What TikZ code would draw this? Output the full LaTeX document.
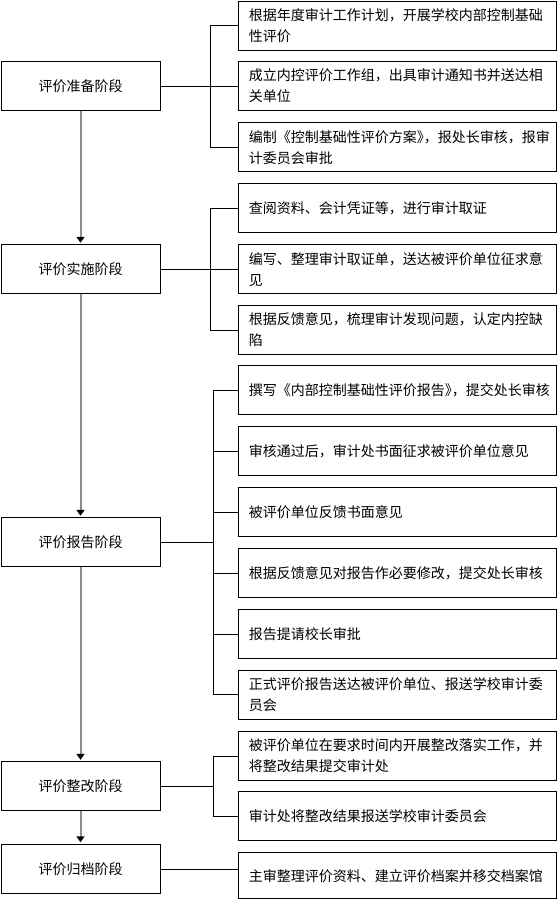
\documentclass[tikz,border=0pt]{standalone}
\usepackage{fontspec}
\setmainfont{Noto Sans CJK SC}
\usetikzlibrary{arrows.meta}

\begin{document}
\begin{tikzpicture}[x=1pt, y=-1pt,
    stage/.style={draw, line width=1pt, anchor=north west, minimum width=159pt, minimum height=49pt, inner sep=0pt, font=\fontsize{14}{21}\selectfont},
    item/.style={draw, line width=1pt, anchor=north west, text width=298pt, inner xsep=10pt, inner ysep=0pt, minimum height=49pt, align=left, font=\fontsize{14}{21}\selectfont},
    flow/.style={draw=gray!90, line width=2pt, -{Triangle[width=8pt, length=6pt, black]}, shorten >=1.5pt}]
    \useasboundingbox (0,0) rectangle (557,901);

    % stages
    \node[stage] (s1) at (0.5, 61.3) {评价准备阶段};
    \node[stage] (s2) at (0.5, 244.3) {评价实施阶段};
    \node[stage] (s3) at (0.5, 517.3) {评价报告阶段};
    \node[stage] (s4) at (0.5, 761.3) {评价整改阶段};
    \node[stage] (s5) at (0.5, 843.8) {评价归档阶段};

    % tasks
    \node[item] (r1) at (238.3, 0.6) {根据年度审计工作计划，开展学校内部控制基础\\性评价};
    \node[item] (r2) at (238.3, 61) {成立内控评价工作组，出具审计通知书并送达相\\关单位};
    \node[item] (r3) at (238.3, 122.3) {编制《控制基础性评价方案》\kern-0.5em，报处长审核，报审\\计委员会审批};
    \node[item] (r4) at (238.3, 183.3) {查阅资料、会计凭证等，进行审计取证};
    \node[item] (r5) at (238.3, 244.3) {编写、整理审计取证单，送达被评价单位征求意\\见};
    \node[item] (r6) at (238.3, 304.8) {根据反馈意见，梳理审计发现问题，认定内控缺\\陷};
    \node[item] (r7) at (238.3, 365.3) {撰写《内部控制基础性评价报告》\kern-0.5em，提交处长审核};
    \node[item] (r8) at (238.3, 426) {审核通过后，审计处书面征求被评价单位意见};
    \node[item] (r9) at (238.3, 486.7) {被评价单位反馈书面意见};
    \node[item] (r10) at (238.3, 548) {根据反馈意见对报告作必要修改，提交处长审核};
    \node[item] (r11) at (238.3, 609.3) {报告提请校长审批};
    \node[item] (r12) at (238.3, 669.5) {正式评价报告送达被评价单位、报送学校审计委\\员会};
    \node[item] (r13) at (238.3, 730.7) {被评价单位在要求时间内开展整改落实工作，并\\将整改结果提交审计处};
    \node[item] (r14) at (238.3, 791) {审计处将整改结果报送学校审计委员会};
    \node[item, minimum height=46pt] (r15) at (238.3, 852.3) {主审整理评价资料、建立评价档案并移交档案馆};

    % main flow
    \draw[flow] (s1) -- (s2);
    \draw[flow] (s2) -- (s3);
    \draw[flow] (s3) -- (s4);
    \draw[flow] (s4) -- (s5);

    % branches
    \draw (s1.east) -- (s1.east -| r2.west);
    \draw (r1.west) -- ++(-28,0) |- (r3.west);

    \draw (s2.east) -- (s2.east -| r5.west);
    \draw (r4.west) -- ++(-28,0) |- (r6.west);

    \path (r7.west) ++(-25,0) coordinate (b3);
    \draw (r7.west) -- (b3) |- (r12.west);
    \draw (r8.west) -- (r8.west -| b3);
    \draw (r9.west) -- (r9.west -| b3);
    \draw (r10.west) -- (r10.west -| b3);
    \draw (r11.west) -- (r11.west -| b3);
    \draw (s3.east) -- (s3.east -| b3);

    \path (r13.west) ++(-25,0) coordinate (b4);
    \draw (r13.west) -- (b4) |- (r14.west);
    \draw (s4.east) -- (s4.east -| b4);

    \draw (s5.east) -- (s5.east -| r15.west);

\end{tikzpicture}
\end{document}
